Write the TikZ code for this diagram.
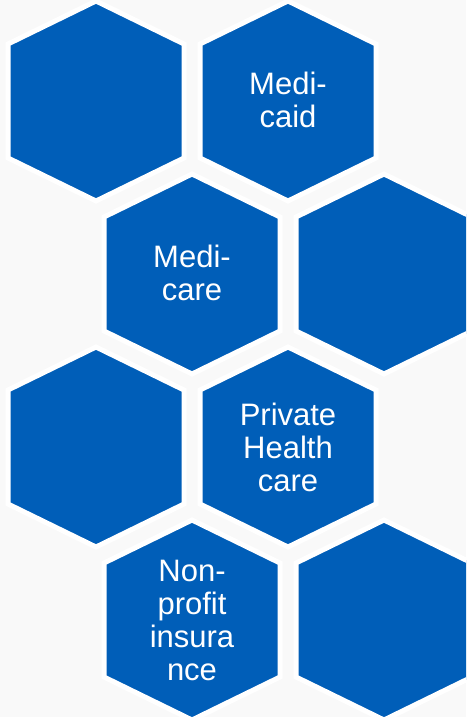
\documentclass[tikz,border=0pt]{standalone}
\usepackage{fontspec}
\setmainfont{Liberation Sans}
\usetikzlibrary{positioning}

\definecolor{hexblue}{RGB}{0,94,184}
\definecolor{bggray}{RGB}{249,249,249}

\tikzset{
    hexcell/.style={fill=hexblue, draw=white, line width=5pt, line join=miter},
    hexlabel/.style={text=white, align=center, inner sep=0pt, font=\fontsize{31}{33}\selectfont}
}

\begin{document}
\begin{tikzpicture}[x=1pt,y=-1pt]
    \useasboundingbox (0,0) rectangle (466,717);
    \clip (0,0) rectangle (466,717);
    \path[fill=bggray] (0,0) rectangle (466,717);
    \foreach \cx/\cy in {96/101, 288/101, 192/274, 384/274, 96/447, 288/447, 192/620, 384/620}
        \path[hexcell] (\cx,\cy-100) -- ++(88,43) -- ++(0,114) -- ++(-88,43) -- ++(-88,-43) -- ++(0,-114) -- cycle;
    \node[hexlabel] (medicaid) at (288,100) {Medi-\\caid};
    \node[hexlabel] (medicare) at (192,273) {Medi-\\care};
    \node[hexlabel] (private) at (288,447) {Private\\Health\\care};
    \node[hexlabel] (nonprofit) at (192,620) {Non-\\profit\\insura\\nce};
\end{tikzpicture}
\end{document}
